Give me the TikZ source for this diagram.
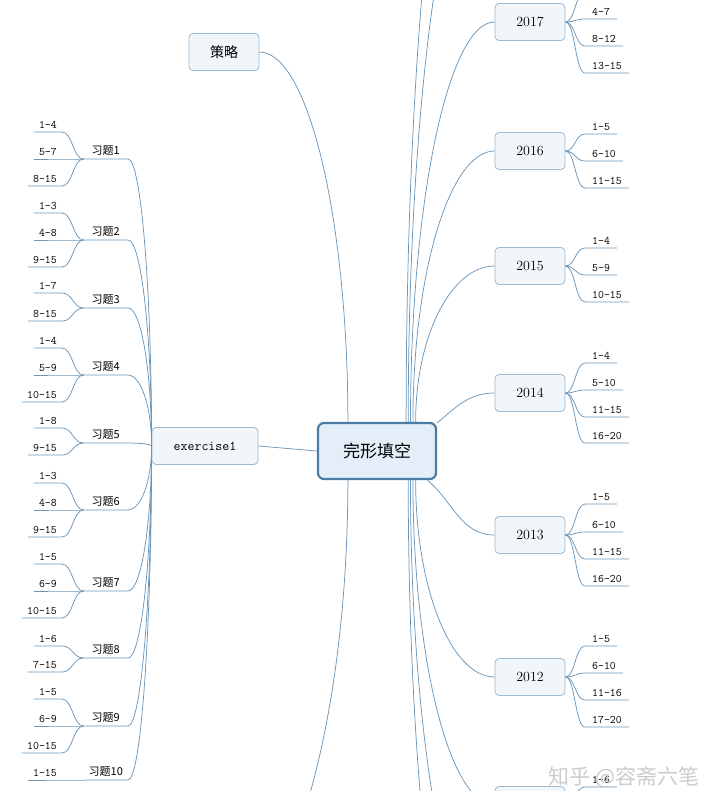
\documentclass[tikz,border=0pt]{standalone}
\usepackage{fontspec}
\newfontfamily\cjk{Noto Sans CJK SC}
\usetikzlibrary{calc}

\definecolor{linkblue}{HTML}{6A96BA}
\definecolor{boxline}{HTML}{9DBAD2}
\definecolor{boxfill}{HTML}{F1F6FB}
\definecolor{rootline}{HTML}{4A7CA6}
\definecolor{rootfill}{HTML}{E4EEF9}

\tikzset{
  link/.style={draw=linkblue, line width=0.75pt},
  branch/.style={to path={.. controls ($(\tikztostart)!0.55!(\tikztostart|-\tikztotarget)$)
      and ($(\tikztotarget)!0.55!(\tikztostart|-\tikztotarget)$) .. (\tikztotarget)}},
  twig/.style={to path={.. controls ($(\tikztostart)!0.5!(\tikztostart-|\tikztotarget)$)
      and ($(\tikztotarget)!0.5!(\tikztotarget-|\tikztostart)$) .. (\tikztotarget)}},
  root/.style={draw=rootline, fill=rootfill, rounded corners=6pt, line width=2.2pt,
      minimum width=118pt, minimum height=56pt, font=\cjk\fontsize{17}{20}\selectfont},
  topic/.style={draw=boxline, fill=boxfill, rounded corners=4pt, line width=0.8pt,
      minimum width=70pt, minimum height=37pt, font=\fontsize{14}{16}\selectfont},
  rng/.style={font=\ttfamily\fontsize{11.5}{13}\selectfont, inner xsep=7pt, inner ysep=3pt,
      anchor=south west},
  lrng/.style={rng, inner xsep=5pt, anchor=south east},
  task/.style={font=\cjk\fontsize{11}{13}\selectfont, minimum width=44pt, inner sep=3pt,
      anchor=south east},
  wmark/.style={font=\cjk\fontsize{21}{24}\selectfont, text=black!20}
}

\begin{document}
\begin{tikzpicture}[x=1pt, y=-1pt]
    \useasboundingbox (0,0) rectangle (720,810);
    \clip (0,0) rectangle (720,790);
    % 中心主题
    \node[root] (center) at (377,451) {完形填空};
    \node[topic, font=\cjk\fontsize{14}{16}\selectfont] (celue) at (224,52) {策略};
    \node[topic, minimum width=106pt, font=\ttfamily\fontsize{13.5}{16}\selectfont] (ex1) at (205,446) {exercise1};
    % 年份
    \foreach \yr/\yy in {2017/22, 2016/151, 2015/266, 2014/393, 2013/535, 2012/677}
        \node[topic] (y\yr) at (530,\yy) {\yr};
    \node[topic] (y2011) at (530,805) {};
    % 画面外的分支
    \coordinate (y2019) at (495,-330);
    \coordinate (y2018) at (495,-180);
    \coordinate (y2010) at (495,950);
    \coordinate (y2009) at (495,1100);
    \coordinate (ex2) at (200,950);
    \coordinate (s2017top) at (585,-8);

    % 中心到各主题
    \draw[link] (center.west) -- (ex1.east);
    \draw[link] (center.135) to[branch] (celue.east);
    \draw[link] (center.-135) to[branch] (ex2);
    \foreach \yr/\ang in {2019/45, 2018/43, 2017/41, 2016/39, 2015/37,
                          2012/-37, 2011/-39, 2010/-41, 2009/-43}
        \draw[link] (center.\ang) to[branch] (y\yr.west);
    \draw[link] (center.25) to[out=40, in=180] (y2014.west);
    \draw[link] (center.-30) to[out=-40, in=180] (y2013.west);

    % 年份下的题号
    \draw[link] (y2017.east) to[twig] (s2017top) -- ++(30,0);
    \foreach \yr/\lab/\yy [count=\n] in {2017/4-7/19, 2017/8-12/46, 2017/13-15/73,
            2016/1-5/134, 2016/6-10/161, 2016/11-15/188,
            2015/1-4/248, 2015/5-9/275, 2015/10-15/302,
            2014/1-4/363, 2014/5-10/390, 2014/11-15/417, 2014/16-20/443,
            2013/1-5/504, 2013/6-10/532, 2013/11-15/559, 2013/16-20/586,
            2012/1-5/646, 2012/6-10/673, 2012/11-16/700, 2012/17-20/727,
            2011/1-6/787} {
        \node[rng] (r\n) at (585,\yy) {\lab};
        \draw[link] (y\yr.east) to[twig] (r\n.south west) -- (r\n.south east);
    }

    % 习题
    \foreach \k/\yy in {1/159, 2/240, 3/308, 4/375, 5/443, 6/510, 7/591, 8/658, 9/726, 10/780} {
        \node[task] (t\k) at (128,\yy) {习题\k};
        \draw[link] (ex1.west) to[branch] (t\k.south east) -- (t\k.south west);
    }
    \foreach \k/\lab/\yy [count=\n] in {1/1-4/132, 1/5-7/159, 1/8-15/186,
            2/1-3/213, 2/4-8/240, 2/9-15/267,
            3/1-7/293, 3/8-15/321,
            4/1-4/348, 4/5-9/375, 4/10-15/402,
            5/1-8/428, 5/9-15/455,
            6/1-3/483, 6/4-8/510, 6/9-15/537,
            7/1-5/564, 7/6-9/591, 7/10-15/618,
            8/1-6/646, 8/7-15/672,
            9/1-5/699, 9/6-9/726, 9/10-15/753,
            10/1-15/780} {
        \node[lrng] (p\n) at (62,\yy) {\lab};
        \draw[link] (t\k.south west) to[twig] (p\n.south east) -- (p\n.south west);
    }

    % 水印
    \node[wmark] (zhihu) at (624,777) {知乎 @容斋六笔};
\end{tikzpicture}
\end{document}
